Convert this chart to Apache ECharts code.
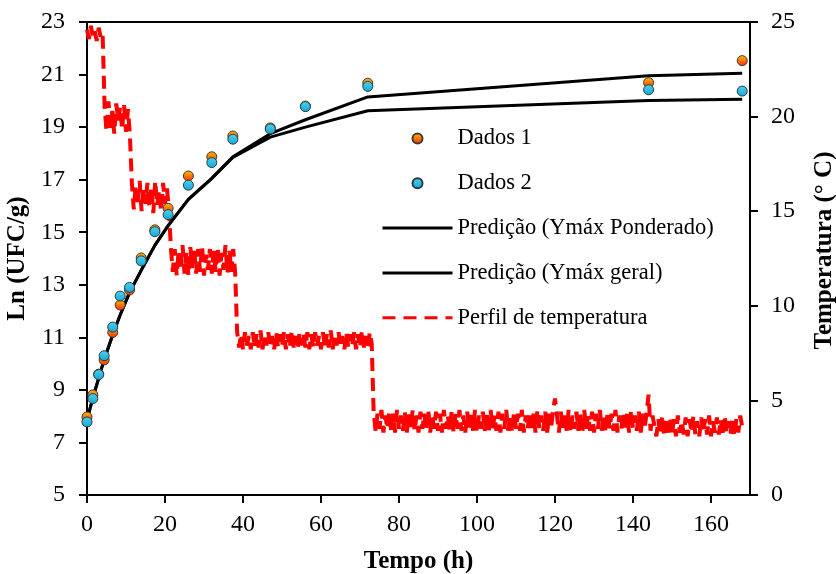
<!DOCTYPE html>
<html>
<head>
<meta charset="utf-8">
<script src="https://cdn.jsdelivr.net/npm/echarts@6/dist/echarts.min.js"></script>
<style>
  html, body { margin: 0; padding: 0; background: #fff; }
  #chart { width: 836px; height: 574px; }
</style>
</head>
<body>
<div id="chart"></div>
<script>
// Sampling times of the growth measurements (h)
const sampleTimes = [0, 1.5, 3, 4.4, 6.6, 8.5, 10.9, 13.9, 17.4, 20.8, 26, 32, 37.4, 47, 56, 72, 144, 168];

// Ln (UFC/g) observed in the two replicates
const dados1 = [7.97, 8.81, 9.60, 10.14, 11.19, 12.23, 12.80, 14.02, 15.09, 15.91, 17.14, 17.87, 18.66, 18.97, 19.80, 20.67, 20.69, 21.53];
const dados2 = [7.78, 8.67, 9.58, 10.30, 11.39, 12.57, 12.90, 13.91, 15.02, 15.67, 16.79, 17.65, 18.54, 18.93, 19.78, 20.55, 20.42, 20.37];

// Model predictions at the same times
const predPonderado = [7.85, 8.70, 9.45, 10.15, 11.10, 11.85, 12.70, 13.55, 14.50, 15.25, 16.25, 17.05, 17.87, 18.75, 19.28, 20.15, 20.95, 21.05];
const predGeral     = [7.85, 8.70, 9.45, 10.15, 11.10, 11.85, 12.70, 13.55, 14.50, 15.25, 16.25, 17.05, 17.85, 18.62, 19.00, 19.62, 20.01, 20.06];

// Temperature logger readings (°C), one every LOG_STEP_H hours from t = 0
const LOG_STEP_H = 0.5;
const tempStage1 = [24.6, 24.1, 24.8, 24.2, 24.5, 24.0, 24.7, 24.2, 24.4];
const tempStage2 = [20.6, 19.2, 20.8, 19.4, 20.3, 19.1, 20.7, 19.8, 20.5, 19.3, 20.6, 19.2, 20.4, 19.0];
const tempStage3 = [16.5, 15.1, 16.4, 15.3, 16.6, 15.0, 16.2, 15.4, 16.5, 15.2,
                    16.3, 14.9, 16.6, 15.3, 16.1, 15.0, 16.5, 15.4, 16.2, 15.1];
const tempStage4 = [13.1, 11.8, 13.0, 11.6, 12.9, 11.9, 13.2, 11.7, 12.8, 11.6,
                    13.1, 12.0, 12.9, 11.7, 13.0, 11.8, 13.2, 11.6, 12.7, 11.9,
                    13.0, 11.7, 12.9, 11.8, 13.1, 11.6, 12.8, 11.9, 13.2, 11.7,
                    12.9, 11.8, 13.0, 11.7];
const tempStage5 = [8.6, 7.8, 8.5, 7.7, 8.6, 7.9, 8.4, 7.7, 8.6, 7.8,
                    8.5, 7.8, 8.7, 7.7, 8.5, 7.9, 8.6, 7.8, 8.4, 7.7,
                    8.6, 7.8, 8.5, 7.9, 8.6, 7.7, 8.5, 7.8, 8.7, 7.8,
                    8.4, 7.7, 8.6, 7.9, 8.5, 7.8, 8.6, 7.7, 8.5, 7.8,
                    8.6, 7.9, 8.4, 7.7, 8.6, 7.8, 8.5, 7.8, 8.7, 7.7,
                    8.5, 7.9, 8.6, 7.8, 8.4, 7.7, 8.6, 7.8, 8.5, 7.9,
                    8.6, 7.7, 8.5, 7.8, 8.7, 7.8, 8.4, 7.7, 8.6, 8.0];
const tempStage6 = [4.4, 3.4, 4.3, 3.5, 4.5, 3.3, 4.2, 3.5, 4.4, 3.4,
                    4.3, 3.3, 4.5, 3.5, 4.2, 3.4, 4.4, 3.3, 4.3, 3.5,
                    4.5, 3.4, 4.2, 3.3, 4.4, 3.5, 4.3, 3.4, 4.5, 3.3,
                    4.2, 3.5, 4.4, 3.4, 4.3, 3.3, 4.5, 3.5, 4.2, 3.4,
                    4.4, 3.3, 4.3, 3.5, 4.5, 3.4, 4.2, 3.3, 4.4, 3.5,
                    4.3, 3.4, 4.5, 3.3, 4.2, 3.5, 4.4, 3.4, 4.3, 3.3,
                    4.5, 3.5, 4.2, 3.4, 4.4, 3.3, 4.3, 3.5, 4.5, 3.4,
                    4.2, 3.3, 4.4, 3.5, 4.3, 3.4, 4.5, 3.3, 4.2, 3.5,
                    4.4, 3.4, 4.3, 3.3, 4.5, 3.5, 4.2, 3.4, 4.4, 3.3,
                    4.3, 3.5, 4.5, 5.1, 4.2, 3.3, 4.4, 3.5, 4.3, 3.4,
                    4.5, 3.3, 4.2, 3.5, 4.4, 3.4, 4.3, 3.3, 4.5, 3.5,
                    4.2, 3.4, 4.4, 3.3, 4.3, 3.5, 4.5, 3.4, 4.2, 3.3,
                    4.4, 3.5, 4.3, 3.4, 4.5, 3.3, 4.2, 3.5, 4.4, 3.4,
                    4.3, 3.3, 4.5, 3.5, 4.2, 3.4, 4.4, 3.3, 4.3, 3.5,
                    4.4, 5.3, 3.4, 4.2];
const tempStage7 = [4.1, 3.1, 4.0, 3.2, 4.2, 3.1, 3.9, 3.3, 4.1, 3.2,
                    4.0, 3.1, 4.2, 3.3, 3.9, 3.2, 4.1, 3.1, 4.0, 3.3,
                    4.2, 3.2, 3.9, 3.1, 4.1, 3.3, 4.0, 3.2, 4.2, 3.1,
                    3.9, 3.3, 4.1, 3.2, 4.0, 3.1, 4.2, 3.3, 3.9, 3.2,
                    4.1, 3.1, 4.0, 3.3, 4.2, 3.6];

// Axis settings
const xTicks = { min: 0, max: 170, interval: 20 };
const yLeftTicks = { min: 5, max: 23, interval: 2 };
const yRightTicks = { min: 0, max: 25, interval: 5 };

const temperatureReadings = [].concat(tempStage1, tempStage2, tempStage3, tempStage4,
                                      tempStage5, tempStage6, tempStage7);
const temperatureSeries = temperatureReadings.map((v, i) => [i * LOG_STEP_H, v]);
const pairs = (ys) => sampleTimes.map((t, i) => [t, ys[i]]);

const FONT = "'Liberation Serif', 'Times New Roman', serif";
const BLACK = '#000';
const RED = '#ff0000';

const axisCommon = {
  axisLine: { show: true, onZero: false, lineStyle: { color: BLACK, width: 2 } },
  axisTick: { show: true, inside: false, length: 8, lineStyle: { color: BLACK, width: 2 } },
  splitLine: { show: false },
  nameTextStyle: { fontFamily: FONT, fontSize: 25, fontWeight: 'bold', color: BLACK },
};
const tickFont = { fontFamily: FONT, fontSize: 24, color: BLACK };

// Line entries in the legend show only the stroke, no marker
const noMarker = { opacity: 0, color: 'rgba(0,0,0,0)', borderWidth: 0 };

const chart = echarts.init(document.getElementById('chart'), null, { renderer: 'canvas' });

chart.setOption({
  animation: false,
  backgroundColor: '#fff',
  grid: {
    left: 87, right: 86, top: 22, bottom: 79,
    containLabel: false, outerBoundsMode: 'none',
    show: true, borderColor: BLACK, borderWidth: 2,
  },
  legend: {
    orient: 'vertical',
    left: 381,
    top: 127,
    padding: 0,
    itemWidth: 70,
    itemHeight: 10,
    itemGap: 21.8,
    textStyle: { fontFamily: FONT, fontSize: 22.5, lineHeight: 22, color: BLACK },
    data: [
      { name: 'Dados 1' },
      { name: 'Dados 2' },
      { name: 'Predição (Ymáx Ponderado)', itemStyle: noMarker, lineStyle: { width: 3 } },
      { name: 'Predição (Ymáx geral)', itemStyle: noMarker, lineStyle: { width: 3 } },
      { name: 'Perfil de temperatura', itemStyle: noMarker, lineStyle: { width: 3, type: [13, 8] } },
    ],
  },
  xAxis: Object.assign({}, axisCommon, {
    type: 'value',
    min: xTicks.min, max: xTicks.max, interval: xTicks.interval,
    name: 'Tempo (h)', nameLocation: 'middle', nameGap: 54,
    axisLabel: Object.assign({ margin: 18, showMaxLabel: false }, tickFont),
  }),
  yAxis: [
    Object.assign({}, axisCommon, {
      type: 'value', position: 'left',
      min: yLeftTicks.min, max: yLeftTicks.max, interval: yLeftTicks.interval,
      name: 'Ln (UFC/g)', nameLocation: 'middle', nameGap: 56,
      axisLabel: Object.assign({ margin: 22 }, tickFont),
    }),
    Object.assign({}, axisCommon, {
      type: 'value', position: 'right',
      min: yRightTicks.min, max: yRightTicks.max, interval: yRightTicks.interval,
      name: 'Temperatura (° C)', nameLocation: 'middle', nameGap: 62,
      nameTextStyle: { fontFamily: FONT, fontSize: 25, fontWeight: 'bold', color: BLACK, padding: [0, 0, 0, 16] },
      axisLabel: Object.assign({ margin: 21 }, tickFont),
    }),
  ],
  series: [
    {
      name: 'Perfil de temperatura',
      type: 'line',
      yAxisIndex: 1,
      data: temperatureSeries,
      symbol: 'none',
      lineStyle: { color: RED, width: 4, type: [13, 7] },
      itemStyle: { color: RED },
      z: 1,
    },
    {
      name: 'Predição (Ymáx Ponderado)',
      type: 'line',
      data: pairs(predPonderado),
      symbol: 'none',
      lineStyle: { color: BLACK, width: 3 },
      itemStyle: { color: BLACK },
      z: 2,
    },
    {
      name: 'Predição (Ymáx geral)',
      type: 'line',
      data: pairs(predGeral),
      symbol: 'none',
      lineStyle: { color: BLACK, width: 3 },
      itemStyle: { color: BLACK },
      z: 2,
    },
    {
      name: 'Dados 1',
      type: 'scatter',
      data: pairs(dados1),
      symbol: 'circle',
      symbolSize: 10,
      itemStyle: {
        color: new echarts.graphic.LinearGradient(0, 0, 0, 1, [
          { offset: 0, color: '#ffc000' },
          { offset: 1, color: '#ff2a00' },
        ]),
        borderColor: '#3a3a3a', borderWidth: 1, opacity: 1,
      },
      z: 3,
    },
    {
      name: 'Dados 2',
      type: 'scatter',
      data: pairs(dados2),
      symbol: 'circle',
      symbolSize: 10,
      itemStyle: {
        color: new echarts.graphic.LinearGradient(0, 0, 0, 1, [
          { offset: 0, color: '#4fd2f2' },
          { offset: 1, color: '#14a6d2' },
        ]),
        borderColor: '#2a3a40', borderWidth: 1, opacity: 1,
      },
      z: 4,
    },
  ],
});
</script>
</body>
</html>
